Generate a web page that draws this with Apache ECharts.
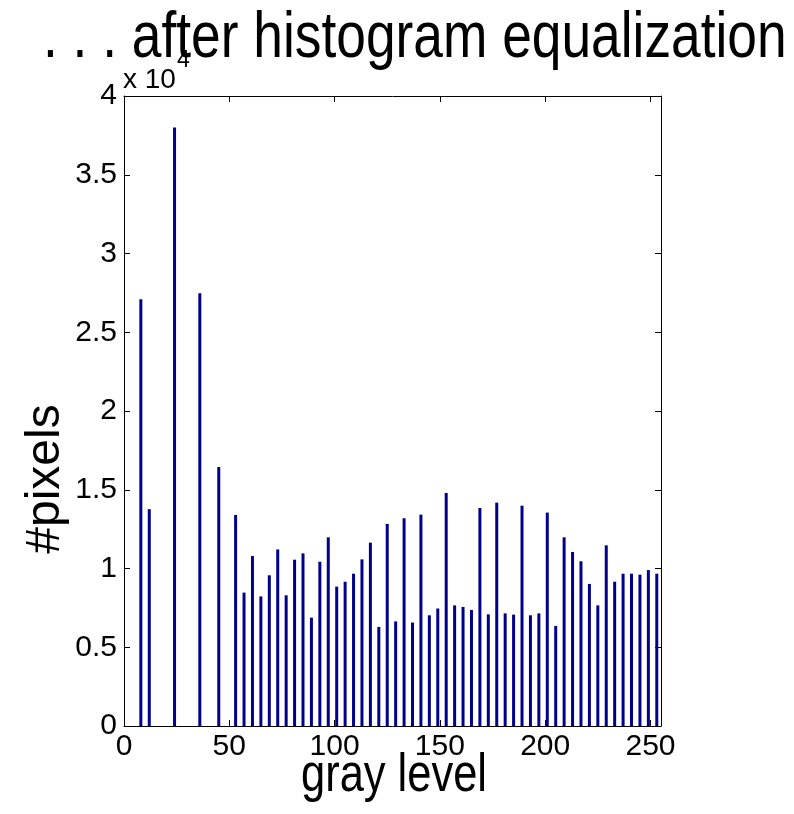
<!DOCTYPE html>
<html>
<head>
<meta charset="utf-8">
<title>after histogram equalization</title>
<script src="https://cdn.jsdelivr.net/npm/echarts@6/dist/echarts.min.js"></script>
<style>
    html, body { margin: 0; padding: 0; background: #fff; }
    #chart { width: 794px; height: 814px; }
</style>
</head>
<body>
<div id="chart"></div>
<script>
// gray levels that still hold pixels after equalization
const grayLevels = [8, 12, 24, 36, 45, 53, 57, 61, 65, 69, 73, 77, 81, 85, 89, 93, 97, 101, 105, 109,
    113, 117, 121, 125, 129, 133, 137, 141, 145, 149, 153, 157, 161, 165, 169, 173, 177, 181, 185, 189,
    193, 197, 201, 205, 209, 213, 217, 221, 225, 229, 233, 237, 241, 245, 249, 253];
// pixel count for each of those gray levels
const pixelCounts = [27100, 13770, 38000, 27470, 16450, 13400, 8470, 10790, 8230, 9570, 11210, 8300, 10560, 10960, 6880, 10430, 11980, 8850, 9160, 9670,
    10580, 11640, 6290, 12830, 6640, 13190, 6570, 13420, 7030, 7460, 14800, 7660, 7560, 7370, 13840, 7090, 14180, 7150, 7070, 13990,
    7030, 7150, 13550, 6350, 11980, 11050, 10460, 9020, 7660, 11470, 9160, 9670, 9670, 9610, 9900, 9670];

// axis ranges and tick steps
const xRange = [0, 255];
const xStep = 50;
const yRange = [0, 40000];
const yStep = 5000;
const yScale = 10000; // labels are shown as value / 1e4

const font = '"Liberation Sans", Arial, sans-serif';
// the title and x label are drawn squeezed sideways (no narrow font installed)
const squeeze = 0.82;

const chart = echarts.init(document.getElementById('chart'), null, { renderer: 'canvas' });

// shared look for the four sides of the box
const boxLine = { show: true, onZero: false, lineStyle: { color: '#000', width: 1 } };
const boxTick = { show: true, inside: true, length: 6, lineStyle: { color: '#000', width: 1 } };

const option = {
    animation: false,
    backgroundColor: '#fff',
    grid: { left: 124, right: 133, top: 96, bottom: 88, containLabel: false },
    xAxis: [
        {
            type: 'value', position: 'bottom',
            min: xRange[0], max: xRange[1], interval: xStep,
            axisLine: boxLine, axisTick: boxTick, splitLine: { show: false },
            axisLabel: {
                margin: 6, color: '#000', fontSize: 30, fontFamily: font,
                formatter: (v) => (v % xStep === 0 ? String(v) : '')
            }
        },
        {
            type: 'value', position: 'top',
            min: xRange[0], max: xRange[1], interval: xStep,
            axisLine: boxLine, axisTick: boxTick, splitLine: { show: false },
            axisLabel: { show: false }
        }
    ],
    yAxis: [
        {
            type: 'value', position: 'left',
            min: yRange[0], max: yRange[1], interval: yStep,
            axisLine: boxLine, axisTick: boxTick, splitLine: { show: false },
            axisLabel: {
                margin: 7, color: '#000', fontSize: 30, fontFamily: font,
                formatter: (v) => String(v / yScale)
            }
        },
        {
            type: 'value', position: 'right',
            min: yRange[0], max: yRange[1], interval: yStep,
            axisLine: boxLine, axisTick: boxTick, splitLine: { show: false },
            axisLabel: { show: false }
        }
    ],
    series: [
        {
            name: '#pixels',
            type: 'bar',
            xAxisIndex: 0,
            yAxisIndex: 0,
            barWidth: 3,
            data: grayLevels.map((g, i) => [g, pixelCounts[i]]),
            itemStyle: { color: '#00008b' }
        }
    ],
    graphic: [
        // title
        {
            type: 'text', x: 43, y: 7, scaleX: squeeze,
            style: { text: '. . . after histogram equalization', font: '65px ' + font, fill: '#000', textVerticalAlign: 'top' }
        },
        // exponent over the y axis
        {
            type: 'text', x: 123, y: 94,
            style: { text: 'x 10', font: '28px ' + font, fill: '#000', textVerticalAlign: 'bottom' }
        },
        {
            type: 'text', x: 177, y: 72,
            style: { text: '4', font: '23px ' + font, fill: '#000', textVerticalAlign: 'bottom' }
        },
        // axis titles
        {
            type: 'text', x: 394, y: 776, scaleX: squeeze,
            style: { text: 'gray level', font: '53px ' + font, fill: '#000', textAlign: 'center', textVerticalAlign: 'middle' }
        },
        {
            type: 'text', x: 46, y: 479, rotation: Math.PI / 2,
            style: { text: '#pixels', font: '48px ' + font, fill: '#000', textAlign: 'center', textVerticalAlign: 'middle' }
        }
    ]
};

chart.setOption(option);
</script>
</body>
</html>
